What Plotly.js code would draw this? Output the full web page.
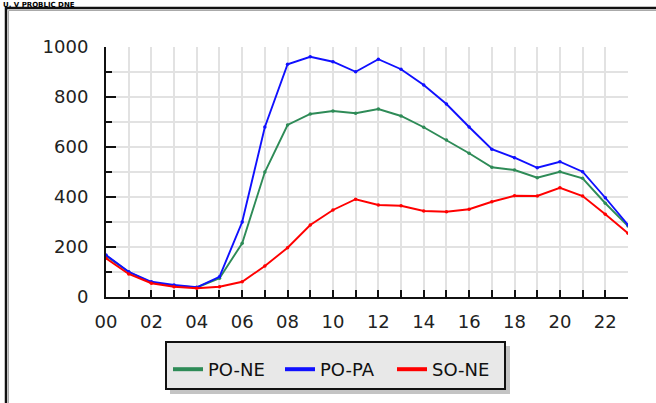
<!DOCTYPE html>
<html>
<head>
<meta charset="utf-8">
<script src="https://cdn.plot.ly/plotly-3.0.1.min.js"></script>
<style>html,body{margin:0;padding:0;background:#fff;}#chart{width:656px;height:403px;}</style>
</head>
<body>
<div id="chart"></div>
<script>
const hours = [0,1,2,3,4,5,6,7,8,9,10,11,12,13,14,15,16,17,18,19,20,21,22,23];
const hourLabels = ["00","","02","","04","","06","","08","","10","","12","","14","","16","","18","","20","","22",""];
const seriesNames = ["PO-NE","PO-PA","SO-NE"];
const poNe = [165,100,58,45,38,75,215,500,688,732,744,735,752,724,679,628,575,519,508,477,501,475,375,284];
const poPa = [168,101,61,48,39,81,300,680,931,961,941,901,951,911,848,772,680,591,557,517,541,501,397,288];
const soNe = [155,92,55,41,35,41,61,124,197,288,348,391,368,365,344,341,351,381,405,404,437,404,331,255];
const colors = ["#2e8b57","#1010ff","#ff0000"];
const values = [poNe, poPa, soNe];

const W=656,H=403,L=106,R=28,T=47,B=106;
const pw=W-L-R, ph=H-T-B;
const px = x => (x-L)/pw;
const py = y => (H-B-y)/ph;

const traces = [];
values.forEach((v,i)=>{
  traces.push({
    x: hours, y: v, name: seriesNames[i], type:'scatter', mode:'lines+markers',
    line:{color:colors[i], width:1.9}, marker:{color:colors[i], size:3.5},
    hoverinfo:'skip', showlegend:false
  });
});
values.forEach((v,i)=>{
  traces.push({
    x:[null], y:[null], name: seriesNames[i], type:'scatter', mode:'lines',
    line:{color:colors[i], width:4}, hoverinfo:'skip', showlegend:true
  });
});

const layout = {
  width:W, height:H,
  margin:{l:L,r:R,t:T,b:B},
  paper_bgcolor:'#fff', plot_bgcolor:'#fff',
  font:{family:'DejaVu Sans', size:18, color:'#222'},
  showlegend:true,
  xaxis:{range:[0,23], tickvals:hours, ticktext:hourLabels, showgrid:true, gridcolor:'#e2e2e2', gridwidth:2,
    showline:true, linecolor:'#111', linewidth:2, ticks:'inside', ticklen:7, tickwidth:2, tickcolor:'#111',
    zeroline:false, fixedrange:true, ticklabelstandoff:7},
  yaxis:{range:[0,1000], dtick:200, tick0:0, showgrid:true, gridcolor:'#e2e2e2', gridwidth:2,
    showline:true, linecolor:'#111', linewidth:2, ticks:'inside', ticklen:10, tickwidth:2, tickcolor:'#111',
    zeroline:false, fixedrange:true, ticklabelstandoff:12,
    minor:{dtick:100, ticks:'inside', ticklen:6, tickwidth:2, tickcolor:'#111', showgrid:true, gridcolor:'#e2e2e2', gridwidth:2}},
  legend:{orientation:'h', x:px(168), y:py(351), xanchor:'left', yanchor:'top',
    bgcolor:'rgba(0,0,0,0)', borderwidth:0, font:{family:'DejaVu Sans', size:18, color:'#111'},
    entrywidth:67, itemwidth:30},
  shapes:[
    {type:'rect', xref:'paper', yref:'paper', x0:px(170), x1:px(510), y0:py(346), y1:py(394), fillcolor:'#c4c4c4', line:{width:0}, layer:'above'},
    {type:'rect', xref:'paper', yref:'paper', x0:px(166), x1:px(505), y0:py(342), y1:py(389), fillcolor:'#e8e8e8', line:{color:'#111', width:2}, layer:'above'},
    {type:'path', xref:'paper', yref:'paper', path:`M ${px(6)} ${py(420)} L ${px(6)} ${py(8)} L ${px(660)} ${py(8)}`, line:{color:'#111', width:2.5}},
    {type:'path', xref:'paper', yref:'paper', path:`M ${px(8.5)} ${py(420)} L ${px(8.5)} ${py(10.5)} L ${px(660)} ${py(10.5)}`, line:{color:'#aaa', width:1}}
  ],
  annotations:[
    {xref:'paper', yref:'paper', x:px(2), y:py(0), xanchor:'left', yanchor:'top', showarrow:false, borderpad:0,
     text:'<b>U. V PROBLIC DNE</b>', font:{family:'DejaVu Sans', size:7, color:'#000'}}
  ]
};

Plotly.newPlot('chart', traces, layout, {displayModeBar:false, staticPlot:true});
</script>
</body>
</html>
